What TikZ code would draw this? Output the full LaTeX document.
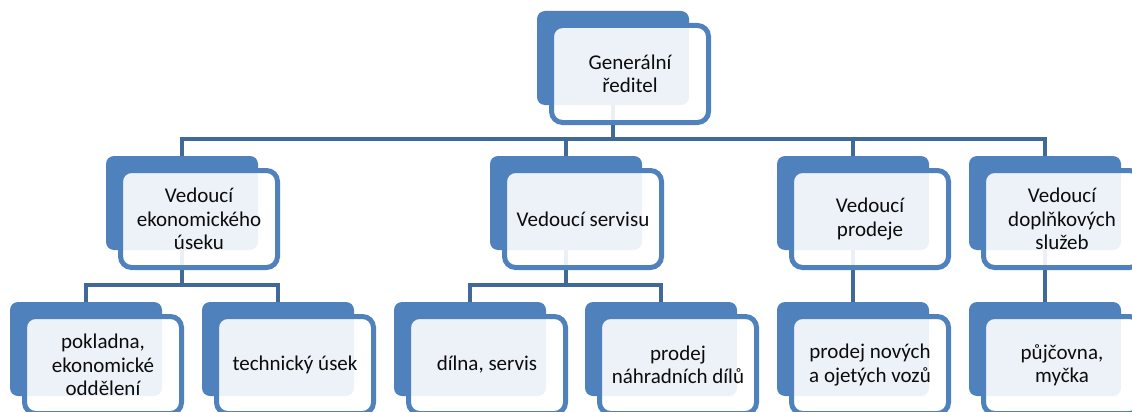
\documentclass[tikz,border=0pt]{standalone}
\usepackage{fontspec}
\setmainfont{Carlito}
\definecolor{boxblue}{RGB}{79,129,189}
\definecolor{linkblue}{RGB}{64,104,153}
\definecolor{txtcol}{RGB}{12,12,12}
\begin{document}
\begin{tikzpicture}[x=1pt,y=-1pt,
  backbox/.style={draw=none,fill=boxblue,rounded corners=8pt,minimum width=152pt,minimum height=94pt,inner sep=0pt,outer sep=0pt,anchor=north west},
  frontbox/.style={draw=boxblue,line width=5pt,fill=white,fill opacity=0.9,text opacity=1,rounded corners=11pt,minimum width=157pt,minimum height=97pt,inner sep=0pt,anchor=north west,text width=152pt,align=flush center,font=\fontsize{21}{23.5}\selectfont,text=txtcol},
  conn/.style={draw=linkblue,line width=4.5pt}]
\clip (0,0) rectangle (1132,412);
% back boxes
\node[backbox] (bT) at (537,11) {};
\node[backbox] (bA) at (106,156) {};
\node[backbox] (bB) at (490,156) {};
\node[backbox] (bC) at (777,156) {};
\node[backbox] (bD) at (969,156) {};
\node[backbox] (bE) at (10,302) {};
\node[backbox] (bF) at (202,302) {};
\node[backbox] (bG) at (394,302) {};
\node[backbox] (bH) at (585,302) {};
\node[backbox] (bI) at (777,302) {};
\node[backbox] (bJ) at (969,302) {};
% connectors
\coordinate (jT) at (612,139);
\draw[conn] (bT.south) -- (bT.south |- jT);
\draw[conn] (bA.north) -- ++(0,-17) -| (bD.north);
\draw[conn] (bB.north) -- ++(0,-17);
\draw[conn] (bC.north) -- ++(0,-17);
\draw[conn] (bE.north) -- ++(0,-17) -| (bF.north);
\draw[conn] (bA.south) -- ++(0,35);
\draw[conn] (bG.north) -- ++(0,-17) -| (bH.north);
\draw[conn] (bB.south) -- ++(0,35);
\draw[conn] (bC.south) -- (bI.north);
\draw[conn] (bD.south) -- (bJ.north);
% front boxes
\node[frontbox] (fT) at (549,23) {Generální\\ředitel};
\node[frontbox] (fA) at (118,168) {Vedoucí\\ekonomického\\úseku};
\node[frontbox] (fB) at (502,168) {Vedoucí servisu};
\node[frontbox] (fC) at (789,168) {Vedoucí\\prodeje};
\node[frontbox] (fD) at (981,168) {Vedoucí\\doplňkových\\služeb};
\node[frontbox] (fE) at (22,314) {pokladna,\\ekonomické\\oddělení};
\node[frontbox] (fF) at (214,314) {technický úsek};
\node[frontbox] (fG) at (406,314) {dílna, servis};
\node[frontbox] (fH) at (597,314) {prodej\\náhradních dílů};
\node[frontbox] (fI) at (789,314) {prodej nových\\a ojetých vozů};
\node[frontbox] (fJ) at (981,314) {půjčovna,\\myčka};
\end{tikzpicture}
\end{document}
